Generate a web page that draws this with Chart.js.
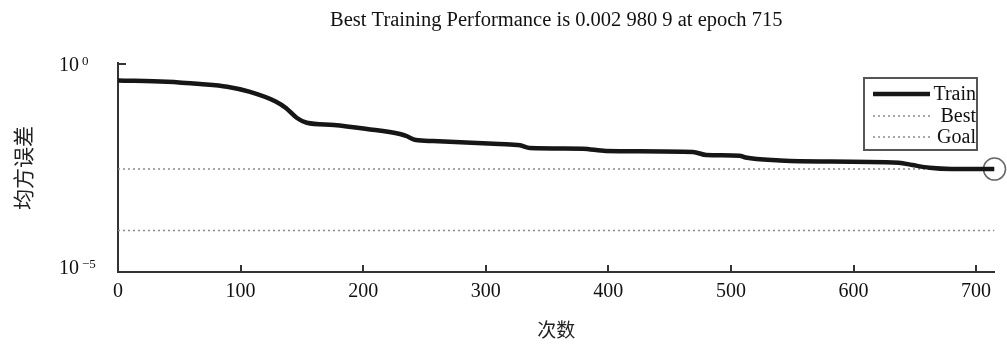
<!DOCTYPE html>
<html>
<head>
<meta charset="utf-8">
<title>Training performance</title>
<script src="https://cdn.jsdelivr.net/npm/chart.js@4.4.0/dist/chart.umd.min.js"></script>
<style>
  html, body { margin: 0; padding: 0; background: #fff; }
  canvas { display: block; }
</style>
</head>
<body>
<canvas id="perf" width="1007" height="346"></canvas>
<script>
// training record (epoch -> mean squared error)
const epochs = [0, 40, 67, 89, 107, 129, 137, 146, 154, 176, 203, 230, 235, 243, 257, 311, 328, 336, 379, 398, 469, 480, 507, 512, 540, 556, 637, 648, 662, 680, 715]
const trainMse = [0.401, 0.376, 0.330, 0.284, 0.216, 0.124, 0.0875, 0.0504, 0.0388, 0.0342, 0.0274, 0.0207, 0.0186, 0.0149, 0.0141, 0.0119, 0.0111, 0.00957, 0.00920, 0.00811, 0.00767, 0.00649, 0.00625, 0.00565, 0.00479, 0.00458, 0.00424, 0.00373, 0.00321, 0.00300, 0.0029809]
const bestPerf = 0.0029809
const bestEpoch = 715
const goalMse = 1e-4

const xTicks = [0, 100, 200, 300, 400, 500, 600, 700]
const yTickValues = [1, 1e-5]
const yTickExponents = ['0', '\u22125']

const SERIF = '"Liberation Serif", "Times New Roman", serif'
const CJK = '"Noto Sans CJK SC", sans-serif'

const lastEpoch = epochs[epochs.length - 1]

// MATLAB-style extras: exponent tick labels, inward ticks, boxed legend
const perfDecor = {
  id: 'perfDecor',
  afterDraw(chart) {
    const { ctx, chartArea, scales } = chart
    const xs = scales.x
    const ys = scales.y
    ctx.save()

    // y labels as 10^n
    ctx.fillStyle = '#111'
    yTickValues.forEach((v, i) => {
      let py = ys.getPixelForValue(v)
      if (i === yTickValues.length - 1) py -= 5
      ctx.font = '20px ' + SERIF
      ctx.textAlign = 'right'
      ctx.textBaseline = 'alphabetic'
      ctx.fillText('10', 79, py + 7)
      ctx.font = '13px ' + SERIF
      ctx.textAlign = 'left'
      ctx.fillText(yTickExponents[i], 82, py + 1)
    })

    // tick marks pointing into the plot
    ctx.strokeStyle = '#333'
    ctx.lineWidth = 2
    ctx.beginPath()
    xTicks.forEach((t) => {
      if (t === 0) return
      const px = Math.round(xs.getPixelForValue(t))
      ctx.moveTo(px, chartArea.bottom)
      ctx.lineTo(px, chartArea.bottom - 7)
    })
    ctx.moveTo(chartArea.left, chartArea.top)
    ctx.lineTo(chartArea.left + 8, chartArea.top)
    ctx.moveTo(chartArea.left, chartArea.top)
    ctx.lineTo(chartArea.left, chartArea.top - 2)
    ctx.stroke()

    // legend box in the upper right corner
    const bx = 864, by = 78, bw = 113, bh = 72
    ctx.fillStyle = '#fff'
    ctx.fillRect(bx, by, bw, bh)
    ctx.strokeStyle = '#555'
    ctx.lineWidth = 2
    ctx.strokeRect(bx, by, bw, bh)
    const rows = [94, 116, 137]
    chart.data.datasets.slice(0, 3).forEach((ds, i) => {
      ctx.strokeStyle = ds.borderColor
      ctx.lineWidth = ds.borderWidth
      ctx.setLineDash(ds.borderDash || [])
      ctx.beginPath()
      ctx.moveTo(bx + 9, rows[i])
      ctx.lineTo(bx + 66, rows[i])
      ctx.stroke()
      ctx.setLineDash([])
      ctx.fillStyle = '#111'
      ctx.font = '20px ' + SERIF
      ctx.textAlign = 'right'
      ctx.textBaseline = 'middle'
      ctx.fillText(ds.label, bx + bw - 1, rows[i] + 1)
    })
    ctx.restore()
  },
}

const perfChart = (node) => {
  const content = {
    datasets: [
      {
        label: 'Train',
        data: epochs.map((e, i) => ({ x: e, y: trainMse[i] })),
        borderColor: '#161616',
        borderWidth: 4.5,
        pointRadius: 0,
        cubicInterpolationMode: 'monotone',
        order: 0,
      },
      {
        label: 'Best',
        data: [{ x: 0, y: bestPerf }, { x: lastEpoch, y: bestPerf }],
        borderColor: '#8a8a8a',
        borderWidth: 1.5,
        borderDash: [2, 3],
        pointRadius: 0,
        order: 2,
      },
      {
        label: 'Goal',
        data: [{ x: 0, y: goalMse }, { x: lastEpoch, y: goalMse }],
        borderColor: '#8a8a8a',
        borderWidth: 1.5,
        borderDash: [2, 3],
        pointRadius: 0,
        order: 2,
      },
      {
        label: 'Best point',
        data: [{ x: bestEpoch, y: bestPerf }],
        showLine: false,
        clip: false,
        pointStyle: 'circle',
        pointRadius: 11,
        pointBorderWidth: 1.5,
        pointBorderColor: '#666',
        pointBackgroundColor: 'rgba(0,0,0,0)',
        order: 1,
      },
    ],
  }
  const config = {
    type: 'line',
    data: content,
    options: {
      responsive: false,
      devicePixelRatio: 1,
      animation: false,
      layout: { padding: { left: 0, right: 12, top: 0, bottom: 0 } },
      plugins: {
        legend: { display: false },
        tooltip: { enabled: false },
        title: {
          display: true,
          fullSize: false,
          text: 'Best Training Performance is 0.002 980 9 at epoch 715',
          color: '#111',
          font: { family: SERIF, size: 20.5, weight: 'normal' },
          padding: { top: 8, bottom: 31.4 },
        },
      },
      scales: {
        x: {
          type: 'linear',
          min: 0,
          max: lastEpoch,
          afterFit: (s) => { s.height = 74 },
          afterBuildTicks: (s) => { s.ticks = xTicks.map((v) => ({ value: v })) },
          grid: { display: false, drawTicks: false },
          border: { display: true, width: 2, color: '#333' },
          ticks: {
            color: '#111',
            padding: 8,
            maxRotation: 0,
            autoSkip: false,
            font: { family: SERIF, size: 20 },
          },
          title: {
            display: true,
            text: '次数',
            color: '#222',
            font: { family: CJK, size: 19 },
            padding: { top: 0, bottom: 5 },
          },
        },
        y: {
          type: 'logarithmic',
          min: 1e-5,
          max: 1,
          afterFit: (s) => { s.width = 118 },
          grid: { display: false, drawTicks: false },
          border: { display: true, width: 2, color: '#333' },
          ticks: { display: false },
          title: {
            display: true,
            text: '均方误差',
            color: '#222',
            font: { family: CJK, size: 21 },
            padding: { top: 10, bottom: 0 },
          },
        },
      },
    },
    plugins: [perfDecor],
  }
  return new Chart(node, config)
}

perfChart(document.getElementById('perf'))
</script>
</body>
</html>
